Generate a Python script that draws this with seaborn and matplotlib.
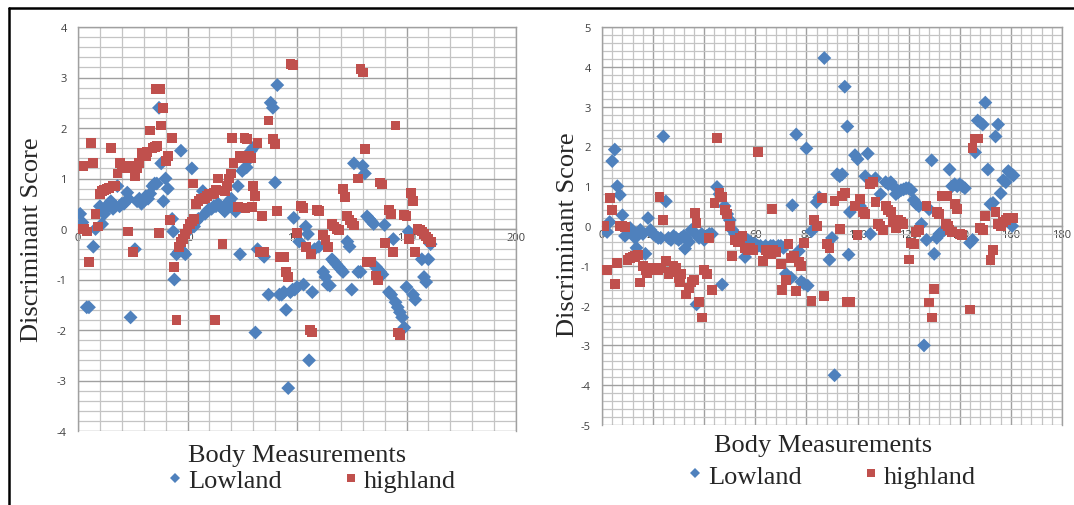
import numpy as np
import pandas as pd
import matplotlib
matplotlib.use("Agg")
import matplotlib.pyplot as plt
import seaborn as sns
from matplotlib.ticker import MultipleLocator
from matplotlib.lines import Line2D

sns.set_style("white")
plt.rcParams['font.family'] = ['Liberation Serif', 'DejaVu Serif']
plt.rcParams['axes.unicode_minus'] = False

# ---- left panel: Lowland (blue diamonds) ----
left_low_x = [1, 2, 4, 5, 7, 8, 10, 11, 12, 13, 14, 15, 16, 17, 18, 19, 20, 21, 22, 22.5, 23,
              24, 26, 27, 28, 29, 30, 31, 32, 33, 34, 35, 36, 37, 38, 39, 40, 41, 43, 43.5,
              44, 45, 46, 47, 48, 49, 50, 51, 52, 53, 54, 55, 57, 58, 59, 60, 61, 62, 63, 64,
              65, 66, 67, 68, 69, 70, 71, 72, 73, 74, 75, 76, 77, 78, 79, 80, 81, 82, 84, 85,
              87, 88, 89, 90, 91, 92, 93, 94, 95, 96, 97, 98, 98.5, 99, 100, 101, 103, 104, 105,
              105.5, 107, 108, 110, 112, 113, 114, 115, 116, 117, 118, 119, 120, 121, 123, 124,
              125, 126, 128, 129, 130, 131, 132, 133, 134, 135, 136, 137, 138, 139, 140, 142,
              143, 144, 145, 146, 147, 148, 149, 150, 151, 153, 154, 157, 158, 159, 160, 161]
left_low_y = [0.3, 0.13, -1.55, -1.55, -0.35, 0.0, 0.45, 0.1, 0.3, 0.4, 0.5, 0.55, 0.4, 0.45,
              0.85, 0.45, 0.5, 0.5, 0.55, 0.72, 0.6, -1.75, -0.4, 0.55, 0.6, 0.5, 0.55, 0.65,
              0.6, 0.7, 0.85, 0.9, 0.9, 2.4, 1.3, 0.55, 1.0, 0.8, 0.2, -0.05, -1.0, -0.5, -0.45,
              1.55, -0.45, -0.5, -0.05, 0.0, 1.2, 0.05, 0.15, 0.2, 0.75, 0.3, 0.35, 0.4, 0.4,
              0.45, 0.45, 0.5, 0.45, 0.4, 0.35, 0.5, 0.55, 0.6, 0.4, 0.35, 0.85, -0.5, 1.15,
              1.2, 1.22, 1.38, 1.55, 1.61, -2.05, -0.4, -0.5, -0.55, -1.3, 2.5, 2.4, 0.92, 2.85,
              -1.3, -1.3, -1.25, -1.6, -3.15, -1.25, -1.2, 0.22, -1.2, -1.15, -0.25, -1.1, 0.05,
              -0.1, -2.6, -1.25, -0.4, -0.35, -0.85, -0.95, -1.1, -1.12, -0.6, -0.65, -0.7,
              -0.75, -0.8, -0.85, -0.25, -0.35, -1.2, 1.3, -0.85, -0.85, 1.25, 1.1, 0.25, 0.2,
              0.15, 0.1, -0.75, -0.8, -0.85, -0.9, 0.08, -1.25, -1.3, -0.2, -1.45, -1.55, -1.65,
              -1.75, -1.95, -1.15, -0.05, -1.3, -1.4, -0.6, -0.95, -1.05, -0.6, -0.3]

# ---- left panel: highland (red squares) ----
left_high_x = [1, 2, 2.5, 3, 4, 5, 6, 7, 8, 9, 10, 11, 12, 13, 14, 15, 16, 17, 18, 19, 20, 21,
               22, 23, 24, 25, 26, 27, 28, 29, 31, 31.5, 33, 34, 35, 35.5, 36, 36.5, 37, 37.5,
               38, 39, 40, 41, 42, 43, 44, 45, 46, 47, 48, 49, 50, 51, 52, 52.5, 53, 54, 55, 56,
               57, 58, 59, 60, 61, 62, 62.5, 63, 64, 66, 67, 68, 69, 70, 70.5, 71, 73, 74, 75,
               76, 76.5, 77, 78, 79, 79.5, 80, 81, 82, 83, 84, 85, 87, 89, 90, 91, 92, 93, 94, 95,
               96, 97, 98, 100, 102, 103, 104, 106, 106.5, 107, 109, 110, 112, 113, 114, 116,
               117, 118, 119, 121, 122, 123, 124, 125, 126, 128, 129, 130, 131, 132, 133, 134,
               136, 137, 138, 139, 140, 142, 143, 144, 145, 146, 147, 149, 150, 151, 152, 153,
               154, 155, 156, 157, 158, 159, 160, 161]
left_high_y = [0.0, 0.0, 1.25, 0.0, -0.05, -0.65, 1.7, 1.3, 0.3, 0.05, 0.7, 0.75, 0.78, 0.8,
               0.82, 1.6, 0.85, 0.85, 1.1, 1.3, 1.2, 1.25, 1.2, -0.05, 1.25, -0.45, 1.05, 1.2,
               1.3, 1.5, 1.45, 1.52, 1.95, 1.6, 1.62, 2.78, 1.65, 2.78, -0.08, 2.78, 2.05, 2.4,
               1.35, 1.45, 0.18, 1.8, -0.75, -1.8, -0.35, -0.25, -0.2, -0.1, 0.0, 0.1, 0.15, 0.9,
               0.2, 0.5, 0.55, 0.6, 0.6, 0.62, 0.65, 0.7, 0.7, 0.72, -1.8, 0.78, 1.0, -0.3, 0.75,
               0.85, 1.0, 1.1, 1.8, 1.3, 0.43, 1.45, 1.4, 1.8, 0.42, 1.78, 1.45, 1.4, 0.43, 0.85,
               0.65, 1.7, -0.45, 0.25, -0.45, 2.15, 1.78, 1.68, 0.36, -0.55, -0.55, -0.55, -0.85,
               -0.95, 3.27, 3.25, -0.08, 0.45, 0.42, -0.35, -2.0, -0.5, -2.05, 0.38, 0.35, -0.12,
               -0.22, -0.35, 0.1, 0.05, 0.0, -0.02, 0.8, 0.63, 0.25, 0.18, 0.12, 0.07, 1.0, 3.17,
               3.1, 1.58, -0.65, -0.65, -0.65, -0.92, -1.02, 0.92, 0.88, -0.28, 0.38, 0.3, -0.45,
               2.05, -2.05, -2.1, 0.28, 0.25, -0.2, 0.72, 0.55, -0.45, 0.0, -0.02, -0.05, -0.1,
               -0.15, -0.2, -0.25]

# ---- right panel: Lowland (blue diamonds) ----
right_low_x = [1, 2, 3, 4, 5, 6, 7, 8, 9, 10, 11, 12, 13, 13.5, 14, 15, 16, 17, 18, 19, 20, 21,
               22, 23, 24, 25, 26, 27, 28, 29, 30, 31, 32, 32.5, 33, 34, 35, 36, 37, 38, 39, 40,
               41, 42, 43, 45, 46, 47, 48, 49, 50, 51, 52, 53, 54, 55, 56, 57, 58, 59, 60, 61,
               62, 63, 64, 65, 66, 67, 68, 69, 70, 71, 72, 74, 74.5, 76, 77, 78, 79, 80, 80.5,
               82, 84, 85, 87, 89, 90, 91, 92, 93, 94, 95, 96, 96.5, 97, 99, 100, 101, 103, 104,
               105, 107, 109, 111, 112, 113, 114, 115, 116, 117, 118, 119, 120, 121, 122, 123,
               124, 125, 126, 127, 128, 129, 130, 131, 132, 133, 134, 136, 137, 138, 139, 140,
               141, 142, 144, 145, 146, 147, 148, 149, 150, 151, 152, 153, 154, 155, 156, 157,
               158, 159, 160, 160.5, 161]
right_low_y = [-0.1, -0.15, 0.1, 1.63, 1.92, 1.0, 0.78, 0.27, -0.25, -0.1, -0.05, -0.15, -0.3,
               -0.55, -0.2, -0.1, -0.2, -0.7, 0.2, -0.1, -0.2, -0.25, -0.3, -0.3, 2.25, 0.62, -0.3,
               -0.35, -0.25, -0.3, -0.35, -0.3, -0.25, -0.57, -0.3, -0.4, -0.1, -0.15, -1.97, -0.3,
               -0.2, -0.35, -0.25, -0.2, -0.2, 0.98, 0.8, -1.47, 0.5, 0.3, 0.15, -0.1, -0.2,
               -0.25, -0.3, -0.35, -0.78, -0.35, -0.4, -0.45, -0.45, -0.5, -0.5, -0.55, -0.5,
               -0.55, -0.5, -0.5, -0.55, -0.5, -0.5, -0.55, -1.2, -1.3, 0.52, 2.3, -0.63, -1.4,
               -1.45, 1.95, -1.5, -0.13, 0.6, 0.72, 4.22, -0.85, -0.3, -3.75, 1.3, 1.25, 1.3,
               3.5, 2.5, -0.72, 0.35, 1.78, 1.68, 0.5, 1.25, 1.82, -0.2, 1.2, 0.8, 1.1, 1.05,
               1.1, 1.0, 0.8, 0.85, 0.9, 0.92, 0.95, 0.95, 0.9, 0.65, 0.55, 0.5, 0.05, -3.0,
               -0.35, 0.42, 1.65, -0.7, -0.3, -0.2, -0.15, -0.1, 1.42, 1.0, 1.05, 1.0, 1.05, 1.0,
               0.95, -0.42, -0.35, 1.85, 2.65, 2.6, 2.55, 3.1, 1.42, 0.55, 0.58, 2.25, 2.55,
               0.82, 1.15, 1.1, 1.38, 1.32, 0.0, 1.27]

# ---- right panel: highland (red squares) ----
right_high_x = [1, 2, 3, 4, 5, 6, 7, 8, 9, 10, 11, 12, 13, 14, 15, 16, 17, 17.5, 18, 19, 20,
                21, 22, 22.5, 23, 24, 25, 26, 27, 28, 29, 30, 30.5, 31, 33, 34, 35, 36, 36.5,
                37, 38, 39, 40, 41, 42, 43, 44, 45, 46, 47, 48, 49, 50, 51, 52, 53, 54, 55, 56,
                57, 58, 59, 61, 63, 64, 65, 66, 66.5, 67, 68, 70, 70.5, 72, 73, 74, 75, 76, 77,
                78, 79, 82, 83, 84, 86, 87, 88, 89, 91, 93, 94, 95, 96, 97, 99, 100, 101, 102,
                103, 105, 106, 107, 108, 109, 110, 111, 112, 113, 114, 115, 116, 117, 118, 120,
                121, 122, 123, 124, 127, 128, 129, 130, 131, 132, 133, 134, 134.5, 135, 135.5,
                136, 137, 138, 139, 140, 141, 144, 145, 146, 147, 148, 149, 150, 152, 153, 154,
                155, 156, 157, 158, 159, 160, 161]
right_high_y = [0.0, -1.1, 0.71, 0.4, -1.45, -0.92, 0.0, 0.0, -0.02, -0.85, -0.8, -0.78, -0.75,
                -0.72, -1.42, -1.0, -1.1, -1.18, -1.05, -1.1, -1.05, -1.1, -1.1, 0.73, -1.05,
                0.15, -0.88, -1.2, -1.15, -1.0, -1.05, -1.3, -1.4, -1.2, -1.72, -1.55, -1.4,
                -1.35, 0.33, 0.08, -1.9, -2.3, -1.1, -1.2, -0.3, -1.6, 0.58, 2.22, 0.82, 0.72,
                0.4, 0.3, 0.0, -0.75, -0.35, -0.4, -0.3, -0.25, -0.55, -0.6, -0.55, -0.6, 1.85,
                -0.88, -0.6, -0.65, -0.7, 0.42, -0.6, -0.65, -0.95, -1.6, -1.35, -0.45, -0.8,
                -0.75, -1.63, -0.9, -1.0, -0.42, -1.88, 0.15, 0.0, 0.7, -1.76, -0.45, -0.55, 0.62,
                -0.08, 0.75, 0.82, -1.9, -1.9, 0.5, -0.22, 0.68, 0.35, 0.3, 1.05, 1.1, 0.6, 0.05,
                0.0, -0.1, 0.5, 0.4, 0.35, 0.1, -0.05, 0.15, 0.1, 0.05, -0.84, -0.42, -0.45,
                -0.15, -0.1, 0.5, -1.92, -2.3, -1.58, 0.35, 0.3, 0.75, 0.75, 0.05, 0.75, 0.0,
                -0.1, -0.15, 0.55, 0.42, -0.2, -0.22, -2.1, 1.95, 2.2, 2.2, -0.05, -0.1, 0.25,
                -0.85, -0.6, 0.35, 0.05, 0.0, 0.1, 0.15, 0.2, 0.2, 0.2]

BLUE = "#4F81BD"
RED = "#C0504D"
TICK_FONT = ['Open Sans', 'DejaVu Sans']


def make_frame(low_x, low_y, high_x, high_y):
    low = pd.DataFrame({'x': low_x, 'score': low_y, 'region': 'Lowland'})
    high = pd.DataFrame({'x': high_x, 'score': high_y, 'region': 'highland'})
    return pd.concat([low, high], ignore_index=True)


def draw_panel(ax, df, xmax, xmajor, xminor, ylim, label_x, label_y, xl_x, xl_y, leg_x, leg_y):
    sns.scatterplot(data=df, x='x', y='score', hue='region', style='region',
                    hue_order=['Lowland', 'highland'], style_order=['Lowland', 'highland'],
                    palette={'Lowland': BLUE, 'highland': RED},
                    markers={'Lowland': 'D', 'highland': 's'},
                    s=50, linewidth=0, ax=ax, zorder=3)
    ax.set_xlim(0, xmax)
    ax.set_ylim(*ylim)
    ax.xaxis.set_major_locator(MultipleLocator(xmajor))
    ax.xaxis.set_minor_locator(MultipleLocator(xminor))
    ax.yaxis.set_major_locator(MultipleLocator(1))
    ax.yaxis.set_minor_locator(MultipleLocator(0.2))
    ax.set_axisbelow(True)
    ax.grid(which='major', color='#a0a0a0', linewidth=1.0)
    ax.grid(which='minor', color='#c4c4c4', linewidth=0.9)
    for sp in ax.spines.values():
        sp.set_color('#a0a0a0')
        sp.set_linewidth(1.0)
    ax.spines['bottom'].set_position(('data', 0))
    ax.tick_params(axis='x', which='both', length=0, pad=2)
    ax.tick_params(axis='y', which='major', length=5, color='#a0a0a0', pad=3)
    ax.tick_params(axis='y', which='minor', length=0)
    for lab in ax.get_xticklabels() + ax.get_yticklabels():
        lab.set_family(TICK_FONT)
        lab.set_fontsize(8)
        lab.set_color('#404040')
    ax.set_ylabel("Discriminant Score", fontsize=19)
    ax.yaxis.set_label_coords(label_x, label_y)
    ax.set_xlabel("")
    ax.text(xl_x, xl_y, "Body Measurements", transform=ax.transAxes,
            ha='center', va='center', fontsize=19)
    handles, labels = ax.get_legend_handles_labels()
    ax.get_legend().remove()
    ax.legend(handles, labels, loc='center', bbox_to_anchor=(leg_x, leg_y), ncol=2,
              frameon=False, fontsize=19, markerscale=0.75, handletextpad=0.1,
              columnspacing=2.2, handlelength=0.8, borderaxespad=0)


fig = plt.figure(figsize=(10.74, 5.06), dpi=100)
ax1 = fig.add_axes([78 / 1074, 1 - 432 / 506, 438 / 1074, 404 / 506])
ax2 = fig.add_axes([602 / 1074, 1 - 426 / 506, 460 / 1074, 398 / 506])

draw_panel(ax1, make_frame(left_low_x, left_low_y, left_high_x, left_high_y),
           200, 50, 10, (-4, 4), -0.08, 0.475, 0.5, -0.06, 0.53, -0.122)
draw_panel(ax2, make_frame(right_low_x, right_low_y, right_high_x, right_high_y),
           180, 20, 4, (-5, 5), -0.05, 0.48, 0.48, -0.05, 0.497, -0.128)

# outer frame (top and left edges)
fig.add_artist(Line2D([9 / 1074, 9 / 1074], [0, 1 - 9 / 506], color='black', linewidth=1.8,
                      transform=fig.transFigure))
fig.add_artist(Line2D([9 / 1074, 1], [1 - 9 / 506, 1 - 9 / 506], color='black', linewidth=1.8,
                      transform=fig.transFigure))

fig.savefig("out.png", dpi=100)
